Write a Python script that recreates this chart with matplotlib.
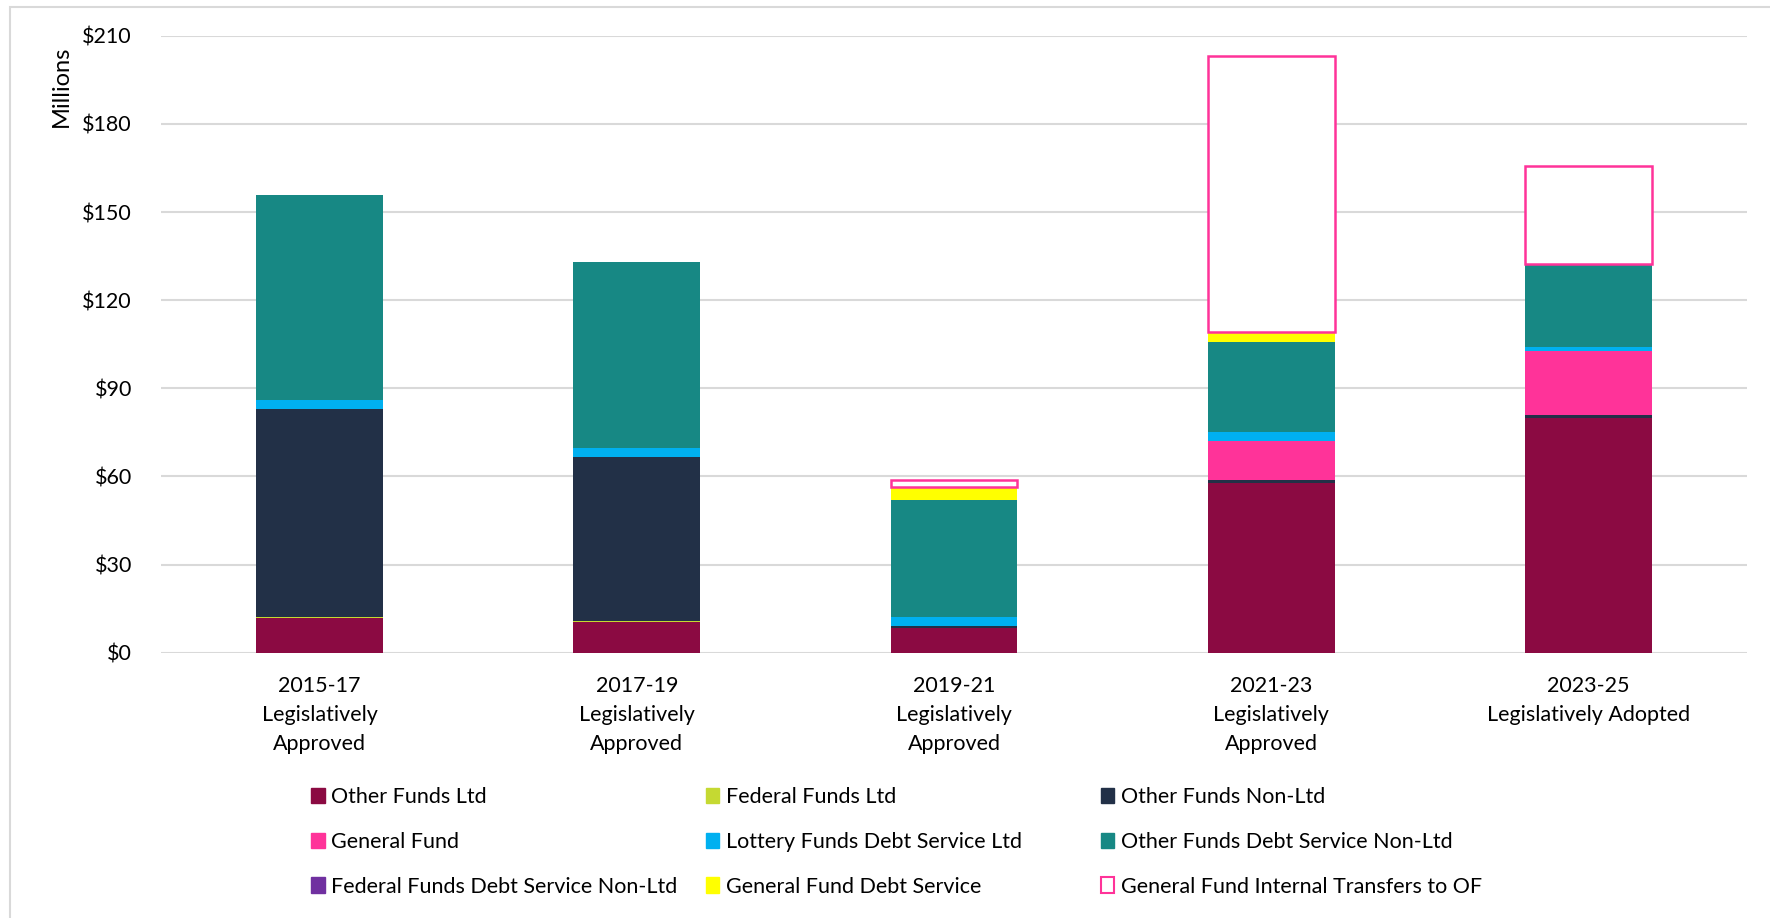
import numpy as np
import matplotlib.pyplot as plt
from matplotlib.patches import Patch, Rectangle
from matplotlib.ticker import FuncFormatter

plt.rcParams['font.family'] = ['Lato', 'DejaVu Sans']

categories = ["2015-17\nLegislatively\nApproved",
              "2017-19\nLegislatively\nApproved",
              "2019-21\nLegislatively\nApproved",
              "2021-23\nLegislatively\nApproved",
              "2023-25\nLegislatively Adopted"]

# $ millions per biennium, stacked bottom to top
other_funds_ltd = [11.8, 10.5, 8.4, 57.7, 79.9]
federal_funds_ltd = [0.2, 0.2, 0.0, 0.0, 0.0]
other_funds_non_ltd = [71.0, 55.8, 0.8, 1.1, 0.9]
general_fund = [0.0, 0.0, 0.0, 13.4, 21.8]
lottery_ds_ltd = [3.1, 3.2, 3.1, 3.0, 1.5]
other_funds_ds_non_ltd = [69.6, 63.4, 39.8, 30.5, 28.1]
federal_funds_ds_non_ltd = [0.0, 0.0, 0.0, 0.0, 0.0]
general_fund_ds = [0.0, 0.0, 4.3, 3.4, 0.0]
gf_transfers_to_of = [0.0, 0.0, 2.4, 94.0, 33.6]

series = [
    ("Other Funds Ltd", other_funds_ltd, "#8B0A42"),
    ("Federal Funds Ltd", federal_funds_ltd, "#C5D932"),
    ("Other Funds Non-Ltd", other_funds_non_ltd, "#223047"),
    ("General Fund", general_fund, "#FF3399"),
    ("Lottery Funds Debt Service Ltd", lottery_ds_ltd, "#00B0F0"),
    ("Other Funds Debt Service Non-Ltd", other_funds_ds_non_ltd, "#178884"),
    ("Federal Funds Debt Service Non-Ltd", federal_funds_ds_non_ltd, "#7030A0"),
    ("General Fund Debt Service", general_fund_ds, "#FFFF00"),
]
transfer_name = "General Fund Internal Transfers to OF"
transfer_edge = "#FF3399"

FS = 15.5

fig = plt.figure(figsize=(17.7, 9.18), dpi=100)
ax = fig.add_axes([0.091, 0.289, 0.896, 0.672])

x = np.arange(len(categories))
bottom = np.zeros(len(categories))
handles = []
for name, vals, col in series:
    vals = np.array(vals)
    ax.bar(x, vals, 0.4, bottom=bottom, color=col, linewidth=0, zorder=3)
    bottom += vals
    handles.append(Patch(facecolor=col, edgecolor=col, label=name))

tv = np.array(gf_transfers_to_of)
ax.bar(x, tv, 0.4, bottom=bottom, facecolor="white", edgecolor=transfer_edge,
       linewidth=[1.8 if v > 0 else 0 for v in tv], zorder=3)
handles.append(Patch(facecolor="white", edgecolor=transfer_edge, linewidth=1.5,
                     label=transfer_name))

ax.set_xlim(-0.5, len(categories) - 0.5)
ax.set_ylim(0, 210)
ax.set_yticks(np.arange(0, 211, 30))
ax.yaxis.set_major_formatter(FuncFormatter(lambda v, p: f"${v:.0f}"))
ax.set_xticks(x)
ax.set_xticklabels(categories, fontsize=FS + 0.5, linespacing=1.55)
ax.tick_params(axis='both', length=0, labelsize=FS, colors="black")
ax.tick_params(axis='x', pad=17)
ax.tick_params(axis='y', pad=21)
ax.grid(axis='y', color="#D9D9D9", linewidth=1.5, zorder=0)
for s in ax.spines.values():
    s.set_visible(False)

fig.text(0.0345, 0.906, "Millions", rotation=90, fontsize=17, ha='center', va='center')

# legend laid out in three equal-width columns, filled row by row
col_x = [0.171, 0.394, 0.617]
for c in range(3):
    col_handles = [handles[r * 3 + c] for r in range(3)]
    fig.legend(handles=col_handles, loc='upper left',
               bbox_to_anchor=(col_x[c], 0.152), frameon=False,
               fontsize=FS, handlelength=0.62, handleheight=0.72,
               handletextpad=0.3, labelspacing=1.15, borderaxespad=0)

fig.patches.append(Rectangle((0.0057, -0.05), 1.2, 1.05 - 7 / 918, transform=fig.transFigure,
                             fill=False, edgecolor="#D9D9D9", linewidth=1.5))

fig.savefig("out.png", dpi=100)
